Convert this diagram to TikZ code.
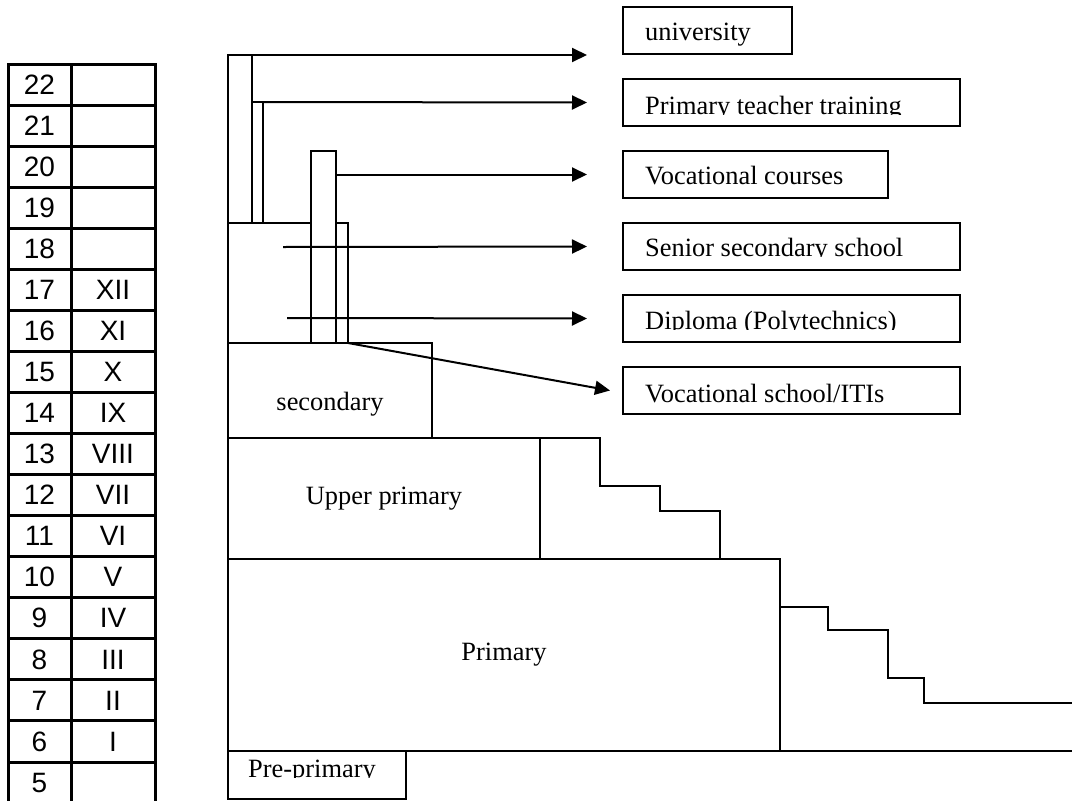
\documentclass[tikz,border=0pt]{standalone}
\usepackage{fontspec}
\setmainfont{Liberation Serif}
\newfontfamily\agefont{Liberation Sans}
\usetikzlibrary{arrows.meta}
\newcommand{\rowstep}{41.06}

\begin{document}
\begin{tikzpicture}[x=1pt, y=-1pt,
    cell/.style={draw, line width=3pt, inner sep=0pt, outer sep=0pt, minimum height=\rowstep pt, font=\agefont\fontsize{28}{30}\selectfont},
    block/.style={draw, line width=2pt, inner sep=0pt, outer sep=0pt, font=\fontsize{26.4}{30}\selectfont},
    outbox/.style={draw, line width=2pt, inner sep=0pt, outer sep=0pt, minimum height=47pt, anchor=north west},
    outtext/.style={inner sep=0pt, anchor=base west, font=\fontsize{26.4}{30}\selectfont},
    arr/.style={line width=2pt, -{Triangle[length=15pt, width=14pt]}},
    stepline/.style={line width=2pt}]
    \useasboundingbox (0,0) rectangle (1072,801);

    % Draw age / class table
    \foreach \age/\grade [count=\i from 0] in {22/,21/,20/,19/,18/,17/XII,16/XI,15/X,14/IX,13/VIII,12/VII,11/VI,10/V,9/IV,8/III,7/II,6/I,5/} {
        \node[cell, minimum width=63pt] (age-\age) at (39.5, {64+\rowstep*(\i+0.5)}) {\age};
        \node[cell, minimum width=84pt] (grade-\age) at (113, {64+\rowstep*(\i+0.5)}) {\grade};
    }

    % School stages
    \node[block, minimum width=204pt, minimum height=95pt, text height=40pt, text depth=0pt] (secondary) at (330,390.5) {secondary};
    \node[block, minimum width=312pt, minimum height=121pt] (upper) at (384,498.5) {Upper primary};
    \node[block, minimum width=552pt, minimum height=192pt] (primary) at (504,655) {Primary};
    \node[block, minimum width=178pt, minimum height=48pt] (preprimary) at (317,775) {};
    \begin{scope}
        \clip (preprimary.north west) rectangle ([yshift=22pt]preprimary.south east);
        \node[outtext] (preprimary-text) at ([xshift=20pt, yshift=22pt]preprimary.south west) {Pre-primary};
    \end{scope}

    % Bars above secondary
    \node[block, minimum width=24pt, minimum height=168pt] (univbar) at (240,139) {};
    \node[block, minimum width=11pt, minimum height=121pt] (pttbar) at (257.5,162.5) {};
    \node[block, minimum width=83pt, minimum height=120pt] (hsblock) at (269.5,283) {};
    \node[block, minimum width=25pt, minimum height=192pt] (vocbar) at (323.5,247) {};
    \node[block, minimum width=12pt, minimum height=120pt] (sssbar) at (342,283) {};

    % Steps (drop outs)
    \draw[stepline] (upper.north east) -- (600,438) -- (600,486) -- (660,486) -- (660,511) -- (720,511) -- (720,559);
    \draw[stepline] (780,607) -- (828,607) -- (828,630) -- (888,630) -- (888,678) -- (924,678) -- (924,703) -- (1072,703);
    \draw[stepline] (primary.south east) -- (1072,751);

    % Outcome boxes
    \foreach \nm/\ytop/\boxw/\lift/\clipat/\txt in {
        univ/7/169/14/0/university,
        ptt/79/337/12/12/{Primary teacher training},
        vc/151/265/14/0/{Vocational courses},
        sss/223/337/14/14/{Senior secondary school},
        dip/295/337/13/13/{Diploma (Polytechnics)},
        iti/367/337/12/0/{Vocational school/ITIs}} {
        \node[outbox, minimum width=\boxw pt] (\nm) at (623,\ytop) {};
        \begin{scope}
            \clip (\nm.north west) rectangle ([yshift=\clipat pt]\nm.south east);
            \node[outtext] (\nm-text) at ([xshift=22pt, yshift=\lift pt]\nm.south west) {\txt};
        \end{scope}
    }

    % Arrows
    \coordinate (univ-in) at ([xshift=-36pt]univ.south west);
    \coordinate (sss-from) at (283,247);
    \coordinate (dip-from) at (287,318);
    \draw[arr] (univbar.north east) -- (univbar.north east -| univ-in);
    \draw[arr] (pttbar.north east) -- ([xshift=-36pt]ptt.west);
    \draw[arr] (vocbar.east |- vc.west) -- ([xshift=-36pt]vc.west);
    \draw[arr] (sss-from) -- ([xshift=-36pt]sss.west);
    \draw[arr] (dip-from) -- ([xshift=-36pt]dip.west);
    \draw[arr] (sssbar.south east) -- ([xshift=-13pt]iti.west);

\end{tikzpicture}
\end{document}
